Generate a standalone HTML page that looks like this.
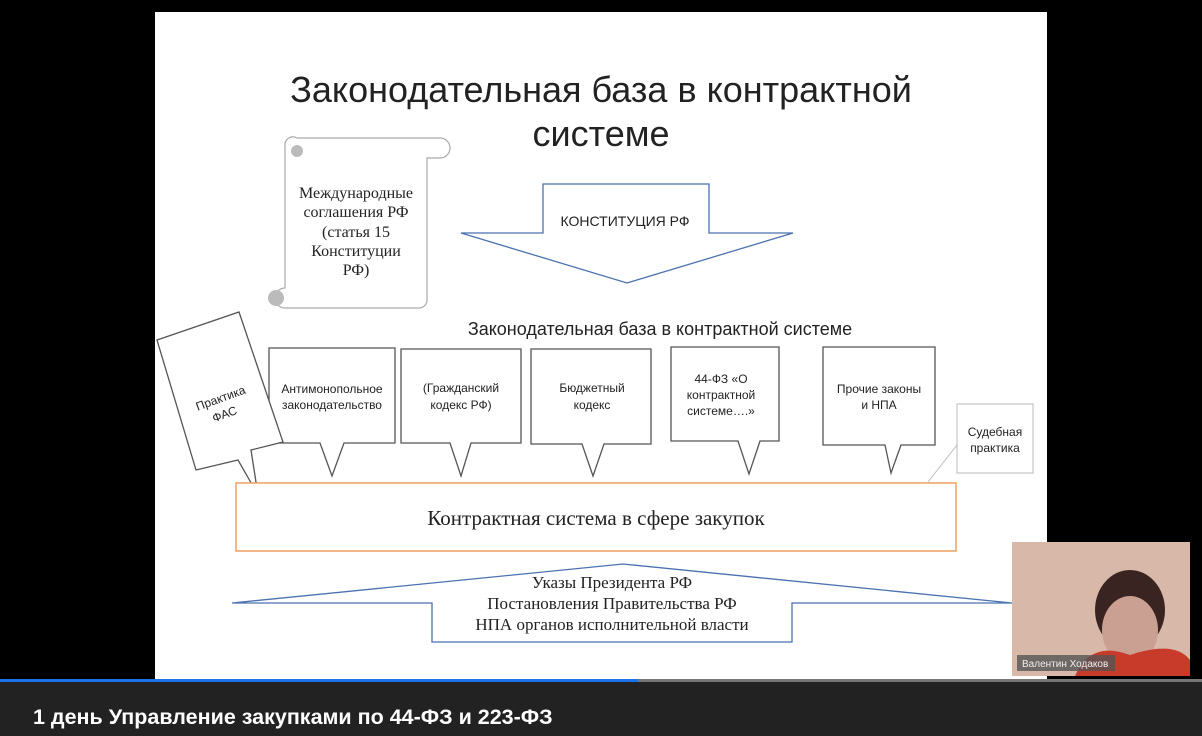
<!DOCTYPE html>
<html><head><meta charset="utf-8"><style>
body{margin:0;width:1202px;height:736px;background:#000;overflow:hidden;position:relative;font-family:"Liberation Sans",sans-serif}
</style></head><body>
<svg width="1202" height="736" style="position:absolute;left:0;top:0">
<rect x="155" y="12" width="892" height="668" fill="#fff"/>
<rect x="0" y="680" width="1202" height="56" fill="#222"/>
<rect x="0" y="679" width="638" height="3" fill="#1a73e8"/>
<rect x="638" y="679" width="564" height="3" fill="#777"/>
<text x="601" y="102" font-size="36" text-anchor="middle" fill="#222">Законодательная база в контрактной</text>
<text x="601" y="146" font-size="36" text-anchor="middle" fill="#222">системе</text>
<path d="M297 138 H440 a9 9 0 0 1 0 20 H427 V300 a8 8 0 0 1 -8 8 H285 a9 9 0 0 1 0 -20 V146 a8 8 0 0 1 12 -8 Z" fill="#fff" stroke="#aaa" stroke-width="1.2"/>
<circle cx="297" cy="151" r="6" fill="#bbb"/><circle cx="276" cy="298" r="8" fill="#bbb"/>
<g font-family="Liberation Serif,serif" font-size="16" text-anchor="middle" fill="#222">
<text x="356" y="198">Международные</text><text x="356" y="217">соглашения РФ</text><text x="356" y="237">(статья 15</text><text x="356" y="256">Конституции</text><text x="356" y="275">РФ)</text></g>
<path d="M543 184 H709 V233 H793 L627 283 L461 233 H543 Z" fill="#fff" stroke="#4a72b0" stroke-width="1.3"/>
<text x="625" y="226" font-size="14" text-anchor="middle" fill="#222">КОНСТИТУЦИЯ РФ</text>
<text x="660" y="335" font-size="18" text-anchor="middle" fill="#222">Законодательная база в контрактной системе</text>
<g fill="#fff" stroke="#555" stroke-width="1.3">
<path d="M269 348 H395 V443 H344 L332 476 L320 443 H269 Z"/>
<path d="M401 349 H521 V443 H471 L461 476 L450 443 H401 Z"/>
<path d="M531 349 H651 V444 H604 L593 476 L582 444 H531 Z"/>
<path d="M671 347 H779 V441 H760 L749 474 L738 441 H671 Z"/>
<path d="M823 347 H935 V445 H901 L891 473 L885 445 H823 Z"/>
<path d="M157 340 L239 312 L283 442 L251 450 L258 495 L238 460 L196 470 Z"/>
</g>
<line x1="928" y1="482" x2="957" y2="445" stroke="#bbb"/>
<rect x="957" y="404" width="76" height="69" fill="#fff" stroke="#bbb"/>
<g font-size="12" text-anchor="middle" fill="#222">
<text x="332" y="393">Антимонопольное</text><text x="332" y="409">законодательство</text>
<text x="461" y="392">(Гражданский</text><text x="461" y="409">кодекс РФ)</text>
<text x="592" y="392">Бюджетный</text><text x="592" y="409">кодекс</text>
<text x="721" y="383">44-ФЗ «О</text><text x="721" y="399">контрактной</text><text x="721" y="415">системе….»</text>
<text x="879" y="393">Прочие законы</text><text x="879" y="409">и НПА</text>
<text x="995" y="436">Судебная</text><text x="995" y="452">практика</text>
<text x="222" y="402" transform="rotate(-20 222 402)">Практика</text><text x="226" y="418" transform="rotate(-20 226 418)">ФАС</text>
</g>
<rect x="236" y="483" width="720" height="68" fill="#fff" stroke="#f0a060" stroke-width="1.5"/>
<text x="596" y="525" font-family="Liberation Serif,serif" font-size="21" text-anchor="middle" fill="#222">Контрактная система в сфере закупок</text>
<path d="M232 603 L623 564 L1012 603 H792 V642 H432 V603 Z" fill="#fff" stroke="#4a72b0" stroke-width="1.3"/>
<g font-family="Liberation Serif,serif" font-size="17" text-anchor="middle" fill="#222">
<text x="612" y="588">Указы Президента РФ</text><text x="612" y="609">Постановления Правительства РФ</text><text x="612" y="630">НПА органов исполнительной власти</text></g>
<rect x="1012" y="542" width="178" height="134" fill="#d8b8a8"/>
<ellipse cx="1130" cy="610" rx="35" ry="40" fill="#3a2422"/>
<ellipse cx="1130" cy="630" rx="28" ry="34" fill="#caa092"/>
<path d="M1075 676 Q1090 640 1130 655 Q1175 640 1190 660 V676 Z" fill="#c83a2a"/>
<rect x="1017" y="655" width="98" height="16" fill="#555" opacity="0.8"/>
<text x="1022" y="667" font-size="10" fill="#eee">Валентин Ходаков</text>
<text x="33" y="724" font-size="21.5" font-weight="bold" fill="#fff">1 день Управление закупками по 44-ФЗ и 223-ФЗ</text>
</svg>
</body></html>
